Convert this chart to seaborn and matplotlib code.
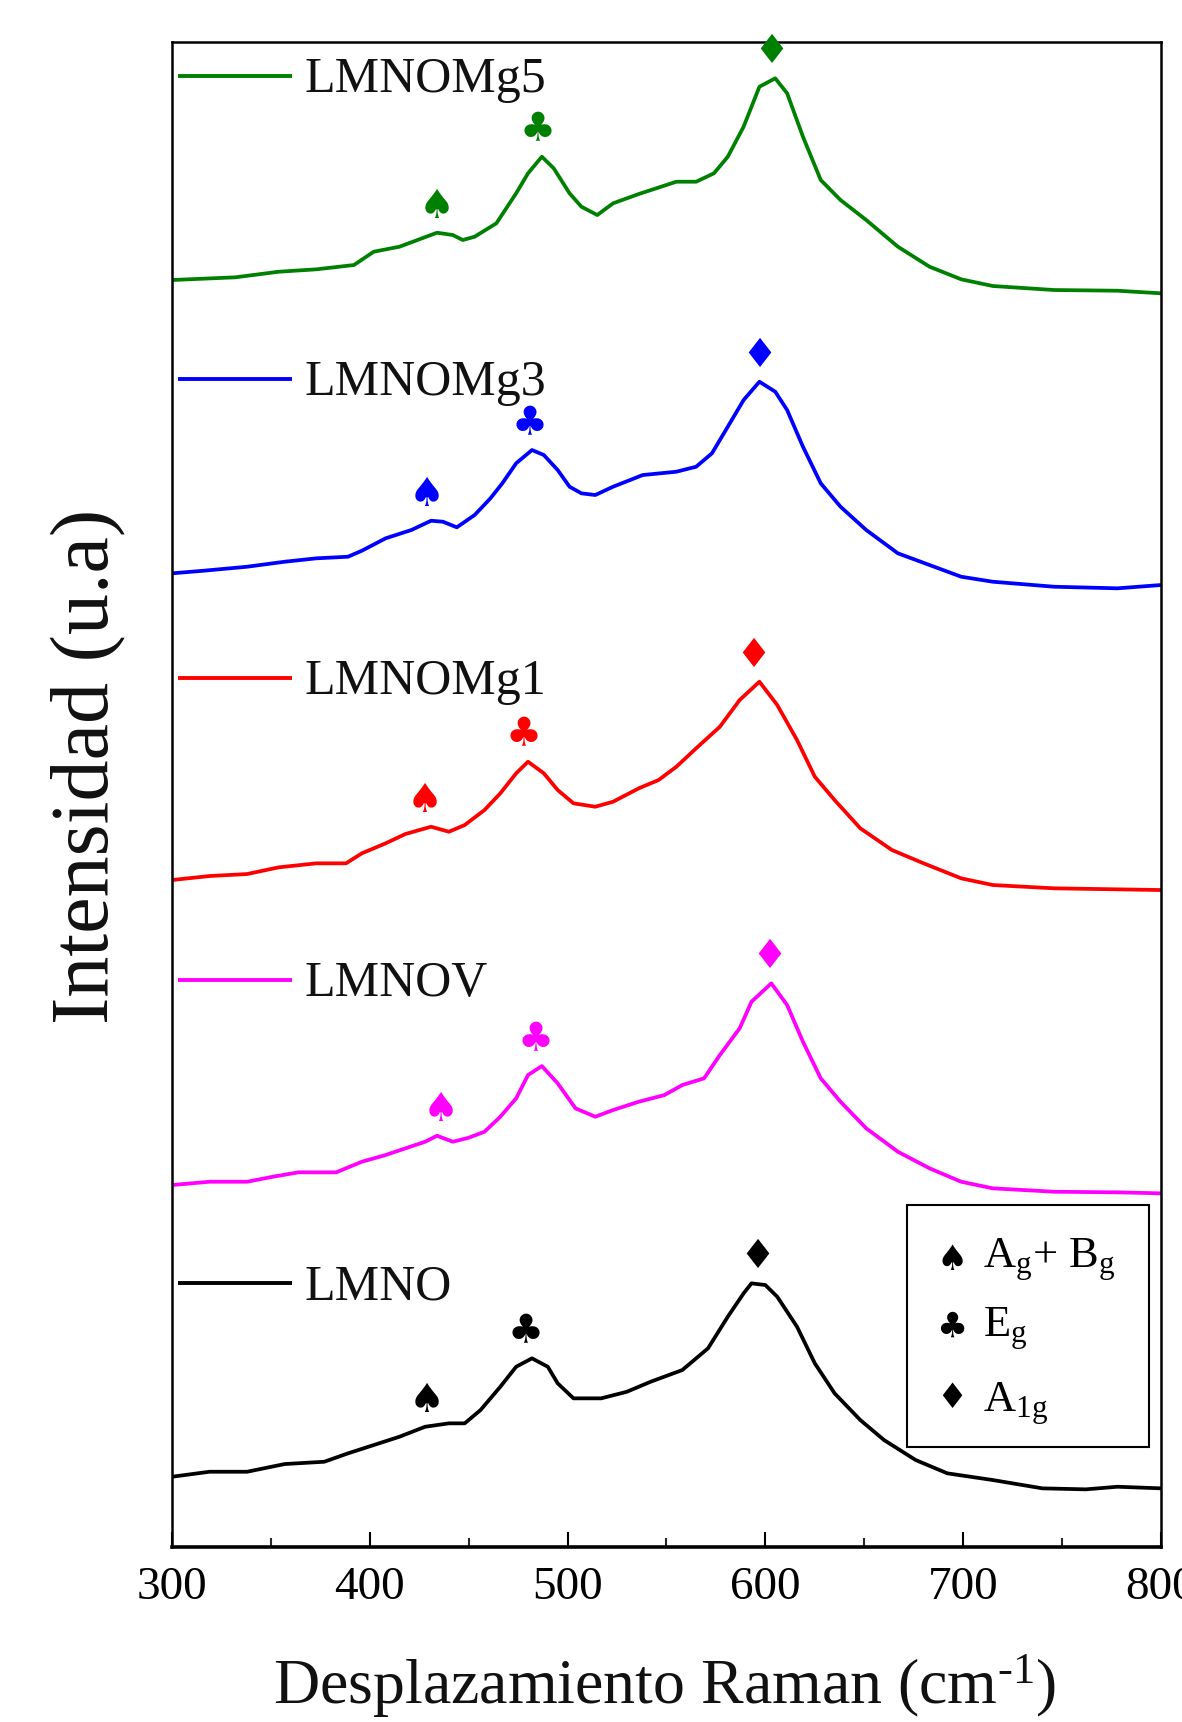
import numpy as np
import pandas as pd
import matplotlib
matplotlib.use("Agg")
import matplotlib.pyplot as plt
from matplotlib.patches import Rectangle
from matplotlib.ticker import MultipleLocator
import seaborn as sns

# ---------------------------------------------------------------------------
# Raman spectra (stacked, arbitrary units)
# ---------------------------------------------------------------------------
samples = ["LMNO", "LMNOV", "LMNOMg1", "LMNOMg3", "LMNOMg5"]
colors = ["#000000", "#FF00FF", "#FF0000", "#0000FF", "#008000"]

wn_lmno = [300, 319, 338, 357, 377, 389, 402, 415, 428, 440, 448, 456, 466, 474,
           482, 490, 495, 503, 517, 530, 542, 558, 571, 581, 589, 593, 600, 606,
           616, 625, 635, 648, 660, 676, 692, 715, 740, 762, 778, 800]
int_lmno = [70.3, 75.3, 75.3, 83.0, 85.3, 93.7, 102.0, 110.3, 120.3, 123.7, 123.7,
            137.0, 160.3, 180.3, 188.7, 180.3, 163.7, 148.7, 148.7, 155.3, 165.3,
            177.0, 198.7, 230.3, 253.7, 263.7, 262.0, 250.3, 220.3, 183.7, 153.7,
            127.0, 107.0, 87.0, 73.7, 67.0, 58.7, 57.7, 60.3, 58.7]

wn_lmnov = [300, 319, 338, 351, 364, 383, 396, 408, 418, 428, 434, 442, 450, 458,
            466, 474, 480, 487, 495, 504, 514, 523, 536, 549, 558, 569, 577, 587,
            593, 603, 611, 619, 628, 638, 651, 667, 683, 699, 715, 746, 778, 800]
int_lmnov = [362.0, 365.3, 365.3, 370.3, 374.7, 374.7, 385.3, 392.0, 398.7, 405.3,
             411.3, 405.3, 409.3, 415.3, 430.3, 448.7, 472.0, 481.0, 463.7, 438.7,
             430.3, 437.0, 445.3, 452.0, 462.0, 468.7, 492.0, 518.7, 545.3, 563.7,
             542.0, 505.3, 468.7, 445.3, 418.7, 395.3, 378.7, 365.3, 358.7, 355.3,
             354.7, 353.7]

wn_mg1 = [300, 319, 338, 354, 373, 388, 396, 408, 418, 431, 440, 448, 458, 466,
          474, 480, 488, 495, 503, 514, 523, 536, 546, 555, 565, 577, 587, 597,
          606, 616, 625, 635, 648, 664, 680, 699, 715, 746, 778, 800]
int_mg1 = [667.0, 671.0, 673.0, 679.7, 683.7, 683.7, 693.7, 703.7, 713.0, 720.3,
           715.3, 722.0, 737.0, 753.7, 773.7, 785.3, 773.7, 757.0, 743.7, 740.3,
           745.3, 758.7, 767.0, 780.3, 798.7, 820.3, 847.0, 865.3, 842.0, 807.0,
           770.3, 747.0, 718.7, 697.0, 683.7, 668.7, 662.0, 658.7, 657.7, 657.0]

wn_mg3 = [300, 316, 338, 357, 373, 389, 396, 408, 421, 431, 437, 444, 453, 461,
          467, 474, 482, 488, 495, 501, 507, 514, 523, 538, 555, 565, 573, 581,
          589, 597, 605, 611, 619, 628, 638, 651, 667, 683, 699, 715, 746, 778, 800]
int_mg3 = [973.7, 976.3, 980.3, 985.3, 988.7, 990.3, 996.3, 1008.7, 1017.0, 1026.3,
           1025.3, 1019.7, 1032.0, 1048.7, 1063.7, 1083.7, 1097.0, 1092.0, 1077.0,
           1060.3, 1053.7, 1052.0, 1060.3, 1072.0, 1075.3, 1080.3, 1093.7, 1120.3,
           1147.0, 1165.3, 1155.3, 1137.0, 1100.3, 1063.7, 1040.3, 1017.0, 993.7,
           982.0, 970.3, 965.3, 960.3, 958.7, 962.0]

wn_mg5 = [300, 332, 354, 373, 392, 402, 415, 434, 442, 447, 453, 464, 474, 480,
          487, 493, 501, 507, 515, 523, 536, 555, 565, 574, 581, 589, 597, 605,
          611, 619, 628, 638, 651, 667, 683, 699, 715, 746, 778, 800]
int_mg5 = [1267.0, 1269.7, 1275.3, 1277.7, 1282.0, 1295.3, 1300.3, 1314.3, 1312.0,
           1307.0, 1310.3, 1323.7, 1353.7, 1373.7, 1390.3, 1378.7, 1353.7, 1340.3,
           1332.0, 1343.7, 1353.0, 1365.3, 1365.3, 1373.7, 1390.3, 1420.3, 1460.3,
           1468.7, 1453.7, 1410.3, 1367.0, 1347.0, 1327.0, 1300.3, 1280.3, 1267.7,
           1261.0, 1257.0, 1256.3, 1253.7]

wavenumbers = [wn_lmno, wn_lmnov, wn_mg1, wn_mg3, wn_mg5]
intensities = [int_lmno, int_lmnov, int_mg1, int_mg3, int_mg5]

# Raman mode positions (cm^-1): A_g+B_g, E_g, A_1g
modes = [
    [429, 479, 596],
    [436, 484, 602],
    [428, 478, 594],
    [429, 481, 597],
    [434, 485, 603],
]
mode_symbols = ["\u2660", "\u2663", "\u2666"]
mode_names = [r"A$_\mathregular{g}$+ B$_\mathregular{g}$",
              r"E$_\mathregular{g}$",
              r"A$_\mathregular{1g}$"]

x_ticks = [300, 400, 500, 600, 700, 800]

# ---------------------------------------------------------------------------
sns.set_theme(style="white")
plt.rcParams["font.family"] = ["Liberation Serif", "DejaVu Sans"]
plt.rcParams["mathtext.fontset"] = "custom"
plt.rcParams["mathtext.rm"] = "Liberation Serif"
plt.rcParams["mathtext.it"] = "Liberation Serif:italic"

frames = []
for name, wn, inten in zip(samples, wavenumbers, intensities):
    frames.append(pd.DataFrame({"wn": wn, "I": inten, "sample": name}))
df = pd.concat(frames, ignore_index=True)

fig = plt.figure(figsize=(11.82, 17.22), dpi=100)
ax = fig.add_axes([0.1455, 0.1016, 0.8367, 0.874])

sns.lineplot(data=df, x="wn", y="I", hue="sample", hue_order=samples,
             palette=dict(zip(samples, colors)), estimator=None, sort=True,
             legend=False, linewidth=2.7, ax=ax)

ax.set_xlim(300, 800)
ax.set_ylim(0, 1505)
ax.set_yticks([])
ax.set_xticks(x_ticks)
ax.set_xticklabels([str(t) for t in x_ticks])
ax.xaxis.set_minor_locator(MultipleLocator(50))
ax.tick_params(axis="x", which="major", direction="in", length=11, width=1.5,
               labelsize=34, pad=14, colors="black", bottom=True, top=False)
ax.tick_params(axis="x", which="minor", direction="in", length=6.5, width=1.5,
               bottom=True, top=False)
ax.set_xlabel("")
ax.set_ylabel("")
for side, sp in ax.spines.items():
    sp.set_color("black")
    sp.set_linewidth(1.8)
ax.spines["bottom"].set_linewidth(2.6)

# Mode symbols above each band
gap = 26
for wn, inten, col, pos in zip(wavenumbers, intensities, colors, modes):
    wn_a = np.asarray(wn, float)
    in_a = np.asarray(inten, float)
    for sym, p in zip(mode_symbols, pos):
        near = (wn_a >= p - 6) & (wn_a <= p + 6)
        top = in_a[near].max() if near.any() else np.interp(p, wn_a, in_a)
        ax.text(p, top + gap, sym, color=col, fontsize=29, ha="center",
                va="center", family="DejaVu Sans", clip_on=False)

# Sample keys at the left of each trace
key_y = [0.1754, 0.3767, 0.5774, 0.7761, 0.9774]
for name, col, yk in zip(samples, colors, key_y):
    ax.plot([0.006, 0.121], [yk, yk], color=col, lw=2.8,
            transform=ax.transAxes, solid_capstyle="butt")
    ax.text(0.1335, yk - 0.0106, name, transform=ax.transAxes, fontsize=36,
            ha="left", va="baseline", color="#111111")

# Mode legend box
ax.add_patch(Rectangle((0.743, 0.0664), 0.245, 0.1608, transform=ax.transAxes,
                       fill=False, edgecolor="black", lw=1.5, zorder=5))
sym_x = (952 - 172) / 989
txt_x = (983 - 172) / 989
base_y = [1268, 1337, 1412]
sym_y = [1260, 1327, 1398]
for sym, name, by, sy in zip(mode_symbols, mode_names, base_y, sym_y):
    ax.text(sym_x, (1547 - sy) / 1505, sym, transform=ax.transAxes,
            fontsize=25, ha="center", va="center", family="DejaVu Sans",
            color="black")
    ax.text(txt_x, (1547 - by) / 1505, name, transform=ax.transAxes,
            fontsize=32, ha="left", va="baseline", color="black")

# Axis titles
fig.text(665 / 1182, 0.0105, r"Desplazamiento Raman (cm$^{\text{-1}}$)",
         fontsize=46, ha="center", va="baseline", color="#111111")
fig.text(89 / 1182, 0.555, "Intensidad (u.a)", rotation=90, fontsize=59,
         ha="center", va="center", color="#111111")

fig.savefig("out.png", dpi=100)
